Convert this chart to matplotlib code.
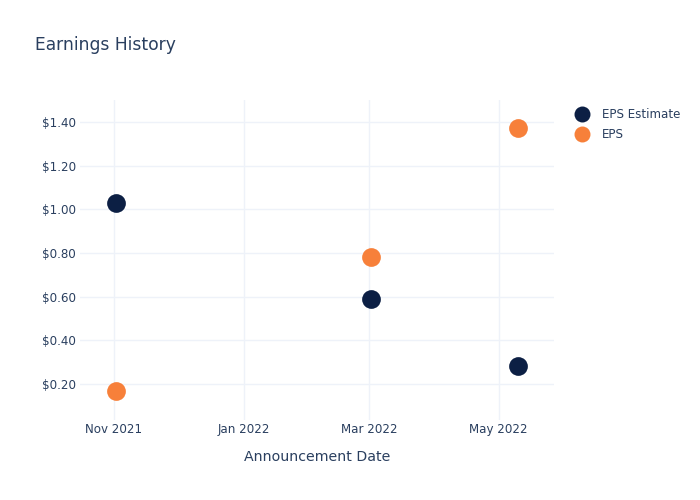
import matplotlib
matplotlib.use("Agg")
import matplotlib.pyplot as plt
import matplotlib.dates as mdates
import numpy as np
from matplotlib.ticker import FuncFormatter
from matplotlib.lines import Line2D

# data
dates = np.array(['2021-11-02', '2022-03-02', '2022-05-10'], dtype='datetime64[D]')
eps_estimate = [1.03, 0.59, 0.28]
eps_actual = [0.17, 0.78, 1.37]

navy = '#0c1f44'
orange = '#f7803a'
txt = '#2a3f5f'
grid = '#eef2f9'

fig = plt.figure(figsize=(7, 5), dpi=100)
ax = fig.add_axes([0.1143, 0.16, 0.677, 0.64])

ax.plot(dates, eps_estimate, 'o', ms=13.5, color=navy, mec='none',
        label='EPS Estimate', zorder=3)
ax.plot(dates, eps_actual, 'o', ms=13.5, color=orange, mec='none',
        label='EPS', zorder=3)

ax.set_xlim(np.datetime64('2021-10-16'), np.datetime64('2022-05-27'))
ax.set_ylim(0.035, 1.50)

ax.set_xticks(np.array(['2021-11-01', '2022-01-01', '2022-03-01', '2022-05-01'],
                       dtype='datetime64[D]'))
ax.xaxis.set_major_formatter(mdates.DateFormatter('%b %Y'))
ax.set_yticks([0.2, 0.4, 0.6, 0.8, 1.0, 1.2, 1.4])
ax.yaxis.set_major_formatter(FuncFormatter(lambda v, p: '${:.2f}'.format(v)))

for s in ax.spines.values():
    s.set_visible(False)
ax.grid(True, color=grid, linewidth=1)
ax.set_axisbelow(True)
ax.tick_params(length=0, labelsize=8.6, labelcolor=txt)
ax.tick_params(axis='x', pad=2)
ax.tick_params(axis='y', pad=3)

ax.set_xlabel('Announcement Date', fontsize=10.2, color=txt, labelpad=10)
fig.text(0.05, 0.9, 'Earnings History', fontsize=12.3, color=txt)

handles = [Line2D([], [], marker='o', ls='none', ms=11.5, color=navy, mec='none'),
           Line2D([], [], marker='o', ls='none', ms=11.5, color=orange, mec='none')]
fig.legend(handles, ['EPS Estimate', 'EPS'], loc='upper left',
           bbox_to_anchor=(0.815, 0.793), frameon=False, fontsize=8.6,
           labelcolor=txt, handletextpad=1.0, labelspacing=0.6,
           handlelength=1.2, borderaxespad=0)

fig.savefig('out.png', dpi=100)
